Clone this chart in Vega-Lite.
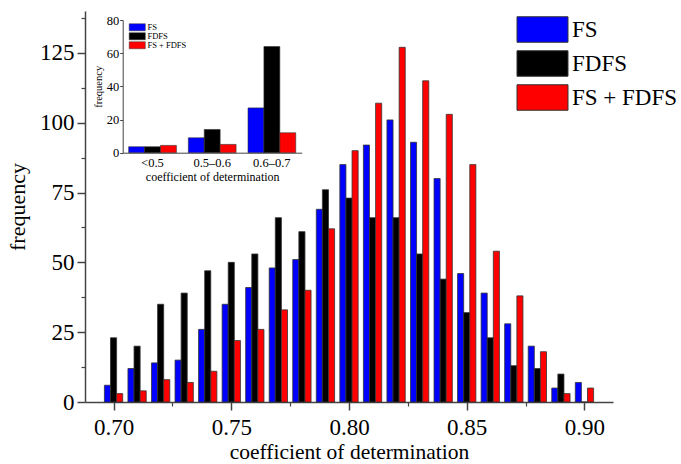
{
  "$schema": "https://vega.github.io/schema/vega-lite/v6.json",
  "width": 528,
  "height": 391,
  "autosize": {"type": "none"},
  "padding": {"left": 85, "top": 11, "right": 68, "bottom": 62},
  "background": "white",
  "config": {
    "view": {"stroke": null},
    "font": "Liberation Serif, Times New Roman, serif",
    "axis": {
      "grid": false,
      "labelFont": "Liberation Serif, Times New Roman, serif",
      "titleFont": "Liberation Serif, Times New Roman, serif",
      "titleFontWeight": "normal",
      "labelColor": "#000",
      "titleColor": "#000",
      "domainColor": "#444",
      "tickColor": "#444"
    },
    "legend": {
      "labelFont": "Liberation Serif, Times New Roman, serif",
      "labelColor": "#000"
    }
  },
  "datasets": {
    "main": [
      {"coef": 0.70, "series": "FS", "count": 6}, {"coef": 0.70, "series": "FDFS", "count": 23}, {"coef": 0.70, "series": "FS + FDFS", "count": 3},
      {"coef": 0.71, "series": "FS", "count": 12}, {"coef": 0.71, "series": "FDFS", "count": 20}, {"coef": 0.71, "series": "FS + FDFS", "count": 4},
      {"coef": 0.72, "series": "FS", "count": 14}, {"coef": 0.72, "series": "FDFS", "count": 35}, {"coef": 0.72, "series": "FS + FDFS", "count": 8},
      {"coef": 0.73, "series": "FS", "count": 15}, {"coef": 0.73, "series": "FDFS", "count": 39}, {"coef": 0.73, "series": "FS + FDFS", "count": 7},
      {"coef": 0.74, "series": "FS", "count": 26}, {"coef": 0.74, "series": "FDFS", "count": 47}, {"coef": 0.74, "series": "FS + FDFS", "count": 11},
      {"coef": 0.75, "series": "FS", "count": 35}, {"coef": 0.75, "series": "FDFS", "count": 50}, {"coef": 0.75, "series": "FS + FDFS", "count": 22},
      {"coef": 0.76, "series": "FS", "count": 41}, {"coef": 0.76, "series": "FDFS", "count": 53}, {"coef": 0.76, "series": "FS + FDFS", "count": 26},
      {"coef": 0.77, "series": "FS", "count": 48}, {"coef": 0.77, "series": "FDFS", "count": 66}, {"coef": 0.77, "series": "FS + FDFS", "count": 33},
      {"coef": 0.78, "series": "FS", "count": 51}, {"coef": 0.78, "series": "FDFS", "count": 61}, {"coef": 0.78, "series": "FS + FDFS", "count": 40},
      {"coef": 0.79, "series": "FS", "count": 69}, {"coef": 0.79, "series": "FDFS", "count": 76}, {"coef": 0.79, "series": "FS + FDFS", "count": 62},
      {"coef": 0.80, "series": "FS", "count": 85}, {"coef": 0.80, "series": "FDFS", "count": 73}, {"coef": 0.80, "series": "FS + FDFS", "count": 90},
      {"coef": 0.81, "series": "FS", "count": 92}, {"coef": 0.81, "series": "FDFS", "count": 66}, {"coef": 0.81, "series": "FS + FDFS", "count": 107},
      {"coef": 0.82, "series": "FS", "count": 101}, {"coef": 0.82, "series": "FDFS", "count": 66}, {"coef": 0.82, "series": "FS + FDFS", "count": 127},
      {"coef": 0.83, "series": "FS", "count": 93}, {"coef": 0.83, "series": "FDFS", "count": 53}, {"coef": 0.83, "series": "FS + FDFS", "count": 115},
      {"coef": 0.84, "series": "FS", "count": 80}, {"coef": 0.84, "series": "FDFS", "count": 44}, {"coef": 0.84, "series": "FS + FDFS", "count": 103},
      {"coef": 0.85, "series": "FS", "count": 46}, {"coef": 0.85, "series": "FDFS", "count": 32}, {"coef": 0.85, "series": "FS + FDFS", "count": 85},
      {"coef": 0.86, "series": "FS", "count": 39}, {"coef": 0.86, "series": "FDFS", "count": 23}, {"coef": 0.86, "series": "FS + FDFS", "count": 54},
      {"coef": 0.87, "series": "FS", "count": 28}, {"coef": 0.87, "series": "FDFS", "count": 13}, {"coef": 0.87, "series": "FS + FDFS", "count": 38},
      {"coef": 0.88, "series": "FS", "count": 20}, {"coef": 0.88, "series": "FDFS", "count": 12}, {"coef": 0.88, "series": "FS + FDFS", "count": 18},
      {"coef": 0.89, "series": "FS", "count": 5}, {"coef": 0.89, "series": "FDFS", "count": 10}, {"coef": 0.89, "series": "FS + FDFS", "count": 3},
      {"coef": 0.90, "series": "FS", "count": 7}, {"coef": 0.90, "series": "FDFS", "count": 0}, {"coef": 0.90, "series": "FS + FDFS", "count": 5}
    ],
    "inset": [
      {"range": "<0.5", "series": "FS", "count": 3.6}, {"range": "<0.5", "series": "FDFS", "count": 3.6}, {"range": "<0.5", "series": "FS + FDFS", "count": 4.4},
      {"range": "0.5–0.6", "series": "FS", "count": 9}, {"range": "0.5–0.6", "series": "FDFS", "count": 14}, {"range": "0.5–0.6", "series": "FS + FDFS", "count": 5},
      {"range": "0.6–0.7", "series": "FS", "count": 27}, {"range": "0.6–0.7", "series": "FDFS", "count": 64}, {"range": "0.6–0.7", "series": "FS + FDFS", "count": 12}
    ]
  },
  "layer": [
    {
      "data": {"name": "main"},
      "layer": [
        {
          "transform": [{"filter": "datum.series === 'FS'"}],
          "mark": {"type": "bar", "width": 6.1, "xOffset": -6.1, "stroke": "#333", "strokeWidth": 0.8},
          "encoding": {
            "x": {"field": "coef", "type": "quantitative",
              "scale": {"domain": [0.69, 0.91], "nice": false, "zero": false},
              "axis": {"orient": "bottom", "values": [0.7, 0.75, 0.8, 0.85, 0.9], "format": ".2f",
                "labelFontSize": 23, "tickSize": 8, "tickWidth": 1.5, "domainWidth": 1.5, "labelPadding": 6,
                "title": "coefficient of determination", "titleFontSize": 21.5, "titlePadding": 2}},
            "y": {"field": "count", "type": "quantitative",
              "scale": {"domain": [0, 140], "nice": false},
              "axis": {"orient": "left", "values": [0, 25, 50, 75, 100, 125],
                "labelFontSize": 23, "tickSize": 8, "tickWidth": 1.5, "domainWidth": 1.5, "labelPadding": 3,
                "title": "frequency", "titleFontSize": 22, "titlePadding": 10}},
            "color": {"field": "series", "type": "nominal",
              "scale": {"domain": ["FS", "FDFS", "FS + FDFS"], "range": ["#0000ff", "#000000", "#ff0000"]},
              "legend": {"orient": "none", "legendX": 444, "legendY": 5, "title": null, "padding": 0,
                "symbolType": "M-2,-1H2V1H-2Z", "symbolSize": 650, "symbolStrokeColor": "#333", "symbolStrokeWidth": 1,
                "labelFontSize": 23, "labelOffset": 16, "rowPadding": 3}}
          }
        },
        {
          "transform": [{"filter": "datum.series === 'FDFS'"}],
          "mark": {"type": "bar", "width": 6.1, "xOffset": 0, "stroke": "#333", "strokeWidth": 0.8},
          "encoding": {
            "x": {"field": "coef", "type": "quantitative",
              "scale": {"domain": [0.69, 0.91], "nice": false, "zero": false},
              "axis": {"orient": "bottom", "values": [0.725, 0.775, 0.825, 0.875], "labels": false, "domain": false,
                "tickSize": 4, "tickWidth": 1.2, "title": null}},
            "y": {"field": "count", "type": "quantitative",
              "scale": {"domain": [0, 140], "nice": false},
              "axis": {"orient": "left", "values": [12.5, 37.5, 62.5, 87.5, 112.5, 137.5], "labels": false, "domain": false,
                "tickSize": 4, "tickWidth": 1.2, "title": null}},
            "color": {"field": "series", "type": "nominal",
              "scale": {"domain": ["FS", "FDFS", "FS + FDFS"], "range": ["#0000ff", "#000000", "#ff0000"]}}
          }
        },
        {
          "transform": [{"filter": "datum.series === 'FS + FDFS'"}],
          "mark": {"type": "bar", "width": 6.1, "xOffset": 6.1, "stroke": "#333", "strokeWidth": 0.8},
          "encoding": {
            "x": {"field": "coef", "type": "quantitative",
              "scale": {"domain": [0.69, 0.91], "nice": false, "zero": false}, "axis": null},
            "y": {"field": "count", "type": "quantitative",
              "scale": {"domain": [0, 140], "nice": false}, "axis": null},
            "color": {"field": "series", "type": "nominal",
              "scale": {"domain": ["FS", "FDFS", "FS + FDFS"], "range": ["#0000ff", "#000000", "#ff0000"]}}
          }
        }
      ],
      "resolve": {"axis": {"x": "independent", "y": "independent"}}
    },
    {
      "data": {"name": "inset"},
      "mark": {"type": "bar", "stroke": "#333", "strokeWidth": 0.6},
      "encoding": {
        "x": {"field": "range", "type": "nominal", "sort": ["<0.5", "0.5–0.6", "0.6–0.7"],
          "scale": {"range": [37.7, 216.7], "paddingInner": 0.2, "paddingOuter": 0.1},
          "axis": {"orient": "bottom", "offset": -249.3, "labelAngle": 0, "ticks": false,
            "labelFontSize": 12.5, "labelPadding": 4, "domainWidth": 1,
            "title": "coefficient of determination", "titleFontSize": 12, "titlePadding": 2}},
        "xOffset": {"field": "series", "type": "nominal", "sort": ["FS", "FDFS", "FS + FDFS"]},
        "y": {"field": "count", "type": "quantitative",
          "scale": {"domain": [0, 80], "nice": false, "range": [141.7, 9]},
          "axis": {"orient": "left", "offset": -37.7, "values": [0, 20, 40, 60, 80],
            "labelFontSize": 12.5, "tickSize": 3, "labelPadding": 1, "domainWidth": 1,
            "title": "frequency", "titleFontSize": 10.5, "titlePadding": 3}},
        "color": {"field": "series", "type": "nominal",
          "scale": {"domain": ["FS", "FDFS", "FS + FDFS"], "range": ["#0000ff", "#000000", "#ff0000"]},
          "legend": {"orient": "none", "legendX": 48, "legendY": 12, "title": null, "padding": 0,
            "symbolType": "M-2.3,-1H2.3V1H-2.3Z", "symbolSize": 49, "symbolStrokeColor": "#333", "symbolStrokeWidth": 0.5,
            "labelFontSize": 8.5, "labelOffset": 6, "rowPadding": -2.5}}
      }
    }
  ],
  "resolve": {"scale": {"x": "independent", "y": "independent", "color": "independent", "xOffset": "independent"}}
}
